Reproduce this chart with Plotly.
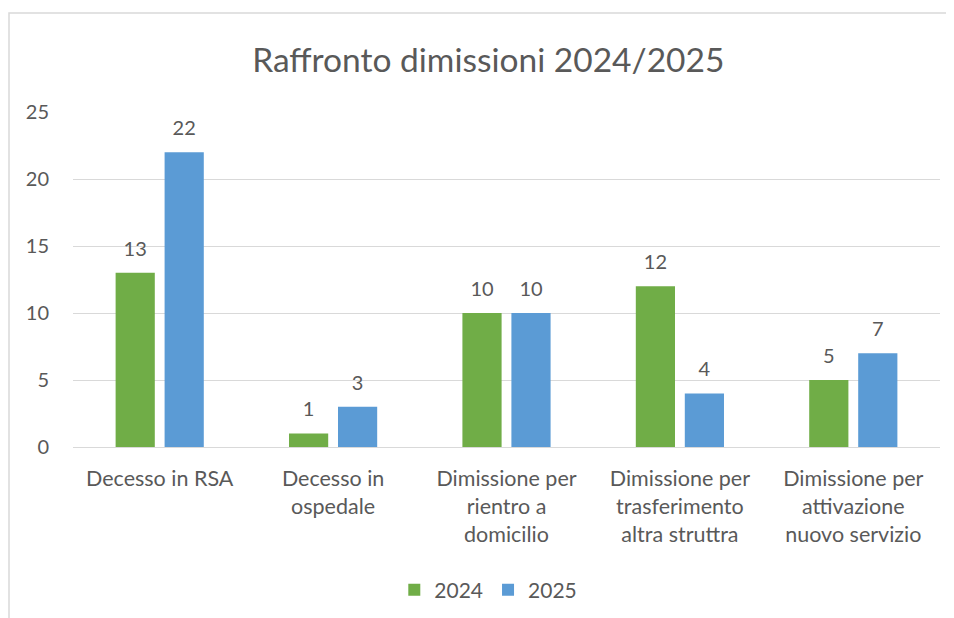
import plotly.graph_objects as go

categories = ["Decesso in RSA", "Decesso in<br>ospedale", "Dimissione per<br>rientro a<br>domicilio",
              "Dimissione per<br>trasferimento<br>altra struttra", "Dimissione per<br>attivazione<br>nuovo servizio"]
series_names = ["2024", "2025"]
values_2024 = [13, 1, 10, 12, 5]
values_2025 = [22, 3, 10, 4, 7]
y_ticks = [0, 5, 10, 15, 20, 25]

colors = {"2024": "#70AD47", "2025": "#5B9BD5"}
FONT = "Lato, Open Sans, sans-serif"
TXT = "#595959"

fig = go.Figure()
for name, vals in zip(series_names, [values_2024, values_2025]):
    fig.add_trace(go.Bar(x=categories, y=vals, name=name, marker_color=colors[name],
                         marker_line_width=0, offsetgroup=name))
    fig.add_trace(go.Scatter(x=categories, y=vals, mode="markers+text", text=[str(v) for v in vals],
                             textposition="top center", offsetgroup=name, showlegend=False,
                             marker=dict(size=18, opacity=0),
                             textfont=dict(size=20, color=TXT, family=FONT), cliponaxis=False,
                             hoverinfo="skip"))

fig.update_layout(
    width=954, height=618,
    margin=dict(l=65, r=22, t=104, b=179),
    paper_bgcolor="white", plot_bgcolor="white",
    barmode="group", bargap=0.435, bargroupgap=0.2,
    scattermode="group", scattergap=0.435,
    font=dict(family=FONT, color=TXT, size=20),
    title=dict(text="Raffronto dimissioni 2024/2025", x=0.479, xref="paper", xanchor="center",
               y=1 - 52 / 618, yref="container", yanchor="middle",
               font=dict(size=33.5, color=TXT, family=FONT)),
    legend=dict(orientation="h", x=0.479, xanchor="center", y=-0.427, yanchor="middle",
                font=dict(size=21, color=TXT), traceorder="normal"),
    showlegend=True,
)
fig.update_yaxes(range=[0, 25], tickvals=y_ticks, showgrid=True, gridcolor="#D9D9D9", gridwidth=1,
                 zeroline=False, showline=False, ticks="", ticklabelstandoff=23,
                 tickfont=dict(size=20, color=TXT))
fig.update_xaxes(showgrid=False, showline=True, linecolor="#D9D9D9", linewidth=1, ticks="",
                 ticklabelstandoff=12, tickfont=dict(size=21.5, color=TXT))

fig.add_shape(type="rect", xref="paper", yref="paper", x0=(1 - 65) / 867, x1=1.1,
              y0=-0.7, y1=1 + (104 - 5) / 335, line=dict(color="#D9D9D9", width=1.5),
              fillcolor="rgba(0,0,0,0)", layer="below")

fig.write_html("out.html")
